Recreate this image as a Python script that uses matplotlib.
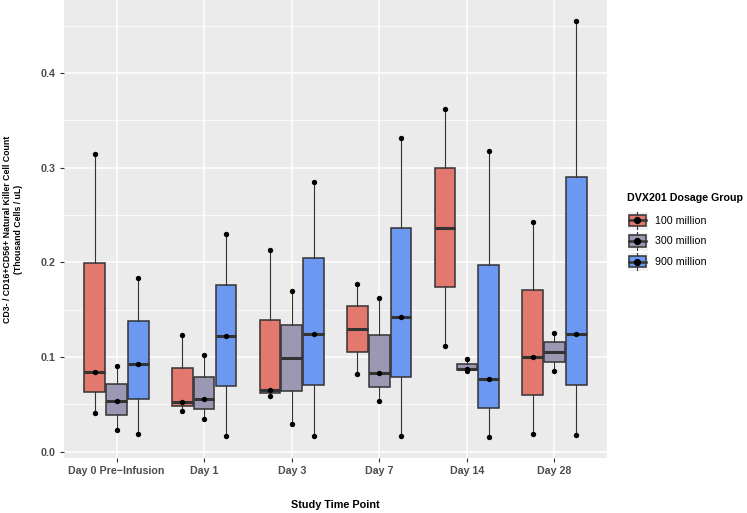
import matplotlib
matplotlib.use("Agg")
import matplotlib.pyplot as plt
from matplotlib.patches import Rectangle, Patch
from matplotlib.lines import Line2D
from matplotlib.legend_handler import HandlerBase

plt.rcParams["font.family"] = ["Liberation Sans", "DejaVu Sans"]

# ---------------------------------------------------------
# Data (thousand cells / uL), one list of observations per box
# ---------------------------------------------------------
time_points = ["Day 0 Pre\u2212Infusion", "Day 1", "Day 3", "Day 7", "Day 14", "Day 28"]
groups = ["100 million", "300 million", "900 million"]

vals_100m = [
    [0.041, 0.084, 0.314],
    [0.0434, 0.0526, 0.1235],
    [0.0585, 0.0656, 0.2134],
    [0.0815, 0.1775],
    [0.1111, 0.3622],
    [0.019, 0.1002, 0.2423],
]
vals_300m = [
    [0.0233, 0.0532, 0.0903],
    [0.0346, 0.0561, 0.1016],
    [0.0293, 0.1693],
    [0.0532, 0.0833, 0.1626],
    [0.0854, 0.0875, 0.0974],
    [0.085, 0.1256],
]
vals_900m = [
    [0.0183, 0.0924, 0.1834],
    [0.0162, 0.122, 0.2304],
    [0.0162, 0.1245, 0.2847],
    [0.0162, 0.1421, 0.3312],
    [0.0152, 0.0772, 0.3171],
    [0.0173, 0.1245, 0.455],
]

colors = ["#E3786E", "#9C98B3", "#6B99F2"]
edge = "#333333"


class BoxKeyHandler(HandlerBase):
    """Draw a ggplot-like boxplot key: whisker, box, median and dot."""

    def create_artists(self, legend, orig_handle, xdescent, ydescent,
                       width, height, fontsize, trans):
        x0, y0 = -xdescent, -ydescent
        cx, cy = x0 + width / 2, y0 + height / 2
        bg = Rectangle((x0, y0), width, height, facecolor="#F2F2F2",
                       edgecolor="white", lw=0.8, transform=trans)
        whisk = Line2D([cx, cx], [y0 + 0.5, y0 + height - 0.5], color=edge,
                       lw=0.8, transform=trans)
        box = Rectangle((x0 + 0.1 * width, y0 + 0.2 * height), 0.8 * width,
                        0.6 * height, facecolor=orig_handle.get_facecolor(),
                        edgecolor=edge, lw=1.1, transform=trans)
        med = Line2D([x0 + 0.1 * width, x0 + 0.9 * width], [cy, cy],
                     color=edge, lw=1.8, transform=trans)
        dot = Line2D([cx], [cy], marker="o", ms=4.2, color="black",
                     transform=trans)
        return [bg, whisk, box, med, dot]


fig = plt.figure(figsize=(7.47, 5.13), dpi=100)
ax = fig.add_axes([0.0857, 0.107, 0.7269, 0.893])
ax.set_facecolor("#EBEBEB")

offsets = [-0.25, 0.0, 0.25]
all_series = [vals_100m, vals_300m, vals_900m]
for series, off, col in zip(all_series, offsets, colors):
    pos = [i + off for i in range(len(time_points))]
    ax.boxplot(series, positions=pos, widths=0.235, patch_artist=True,
               showcaps=False, showfliers=False, manage_ticks=False,
               boxprops=dict(facecolor=col, edgecolor=edge, lw=1.1),
               whiskerprops=dict(color=edge, lw=0.8),
               medianprops=dict(color=edge, lw=2.2),
               zorder=3)
    for p, obs in zip(pos, series):
        ax.scatter([p] * len(obs), obs, s=15, color="black", zorder=4,
                   linewidths=0)

# Axes limits and grid (ggplot style)
ax.set_xlim(-0.6, len(time_points) - 0.4)
ax.set_ylim(-0.0068, 0.477)
ax.set_xticks(range(len(time_points)))
ax.set_xticklabels(time_points)
ax.set_yticks([0.0, 0.1, 0.2, 0.3, 0.4])
ax.set_yticklabels(["0.0", "0.1", "0.2", "0.3", "0.4"])
ax.set_yticks([0.05, 0.15, 0.25, 0.35, 0.45], minor=True)
ax.grid(which="major", color="white", lw=1.1, zorder=0)
ax.grid(which="minor", axis="y", color="white", lw=0.55, zorder=0)
ax.set_axisbelow(True)
for s in ax.spines.values():
    s.set_visible(False)
ax.tick_params(axis="both", which="major", length=3, width=0.8,
               color="#333333", labelcolor="#4D4D4D", labelsize=7.7, pad=3)
ax.tick_params(axis="y", which="minor", length=0)
for lab in ax.get_xticklabels() + ax.get_yticklabels():
    lab.set_fontweight("bold")

ax.set_xlabel("Study Time Point", fontsize=7.8, fontweight="bold", labelpad=17)
ax.set_ylabel("CD3- / CD16+CD56+ Natural Killer Cell Count\n(Thousand Cells / uL)",
              fontsize=6.3, fontweight="bold", labelpad=13, linespacing=1.25)

handles = [Patch(facecolor=c) for c in colors]
leg = fig.legend(handles, groups, loc="center left",
                 bbox_to_anchor=(0.839, 0.548), frameon=False,
                 borderpad=0.0, borderaxespad=0.0,
                 handler_map={Patch: BoxKeyHandler()},
                 title="DVX201 Dosage Group", fontsize=7.7,
                 title_fontproperties={"weight": "bold", "size": 7.7},
                 handlelength=2.0, handleheight=2.35, labelspacing=0.15,
                 handletextpad=0.65)
leg._legend_box.align = "left"
leg._legend_box.sep = 6  # gap between title and keys, points

fig.savefig("out.png", dpi=100)
